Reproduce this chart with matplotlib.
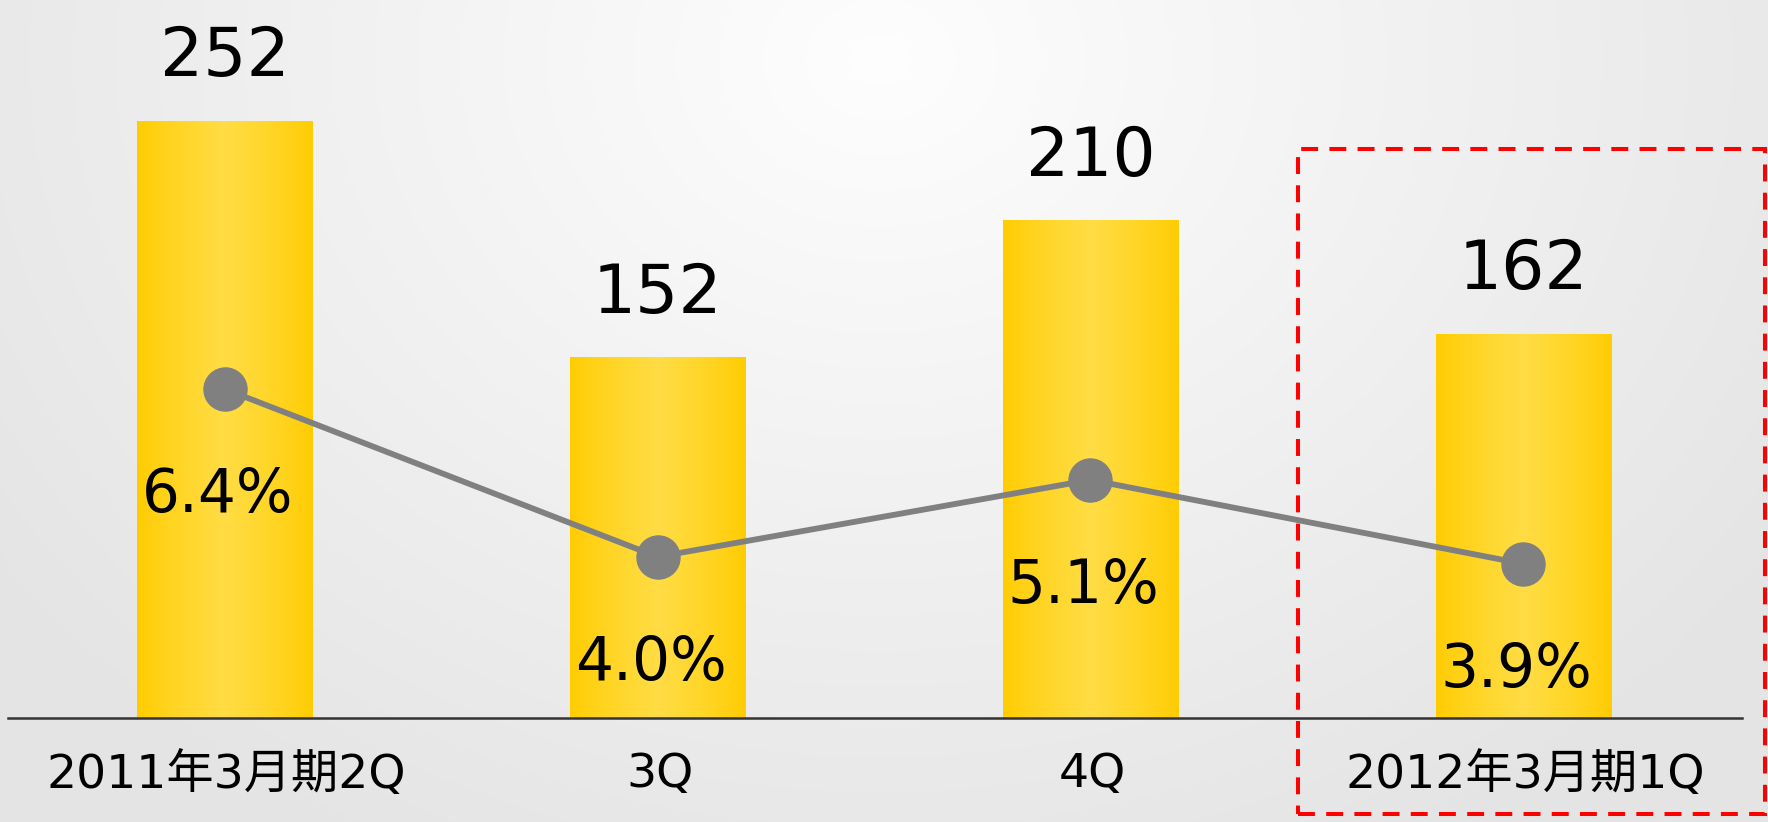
import numpy as np
import matplotlib.pyplot as plt
from matplotlib.patches import Rectangle

# chart data
categories = ['2011年3月期2Q', '3Q', '4Q', '2012年3月期1Q']
sales = [252, 152, 210, 162]
margin_pct = [6.4, 4.0, 5.1, 3.9]

fig = plt.figure(figsize=(17.68, 8.22), dpi=100)

# soft radial background
bg = fig.add_axes([0, 0, 1, 1], zorder=0)
yy, xx = np.mgrid[0:822, 0:1768]
r = np.sqrt(((xx - 880) / 1100.0) ** 2 + ((yy - 60) / 900.0) ** 2)
r = np.clip(r, 0, 1)
shade = 0.995 - 0.10 * r
bg.imshow(np.dstack([shade, shade, shade]), aspect='auto', extent=[0, 1, 0, 1])
bg.axis('off')

ax = fig.add_axes([0, 0, 1, 1], zorder=1)
ax.patch.set_alpha(0)
x = np.arange(len(categories))

# bars with horizontal yellow gradient
bars = ax.bar(x, sales, width=0.406, color='none', edgecolor='none')
t = np.linspace(0, 1, 256)
k = 1 - np.abs(t - 0.5) * 2
c_edge = np.array([1.0, 0.80, 0.0])
c_mid = np.array([1.0, 0.865, 0.27])
grad = c_edge[None, :] + (c_mid - c_edge)[None, :] * k[:, None] ** 0.8
grad = grad[None, :, :]
for b, v in zip(bars, sales):
    x0, w = b.get_x(), b.get_width()
    ax.imshow(grad, extent=[x0, x0 + w, 0, b.get_height()], aspect='auto', zorder=2)
    ax.annotate(str(v), (b.get_x() + w / 2, b.get_height()), xytext=(0, 46),
                textcoords='offset points', ha='center', va='center',
                fontsize=49, color='black', zorder=5)

ax.axhline(0, xmin=8 / 1768, xmax=1742 / 1768, color='#333333', lw=1.8, zorder=3)

for xi, lab in zip(x, categories):
    ax.text(xi + 0.005, -24, lab, ha='center', va='center', fontsize=34,
            family=['DejaVu Sans', 'Noto Sans CJK JP'], color='black')

ax.set_xlim(-0.5185, 3.5647)
ax.set_ylim(-43.9, 303.1)
ax.axis('off')

# margin line on its own scale
ax2 = ax.twinx()
ax2.set_zorder(2)
ax2.patch.set_alpha(0)
ax2.plot(x, margin_pct, color='#808080', lw=4.2, marker='o', markersize=31,
         markerfacecolor='#808080', markeredgecolor='#808080', zorder=4)
for xi, p in zip(x, margin_pct):
    ax2.annotate(f'{p:.1f}%', (xi, p), xytext=(-5, -77), textcoords='offset points',
                 ha='center', va='center', fontsize=43, color='black')
ax2.set_ylim(0.21, 11.96)
ax2.axis('off')

# dashed highlight around the latest quarter
last = len(categories) - 1
ax.add_patch(Rectangle((last - 0.521, -40.5), 1.078, 280.5, fill=False,
                       edgecolor='#ff0000', lw=2.9, linestyle=(0, (4.2, 2.8)),
                       zorder=6, clip_on=False))

fig.savefig('out.png', dpi=100)
